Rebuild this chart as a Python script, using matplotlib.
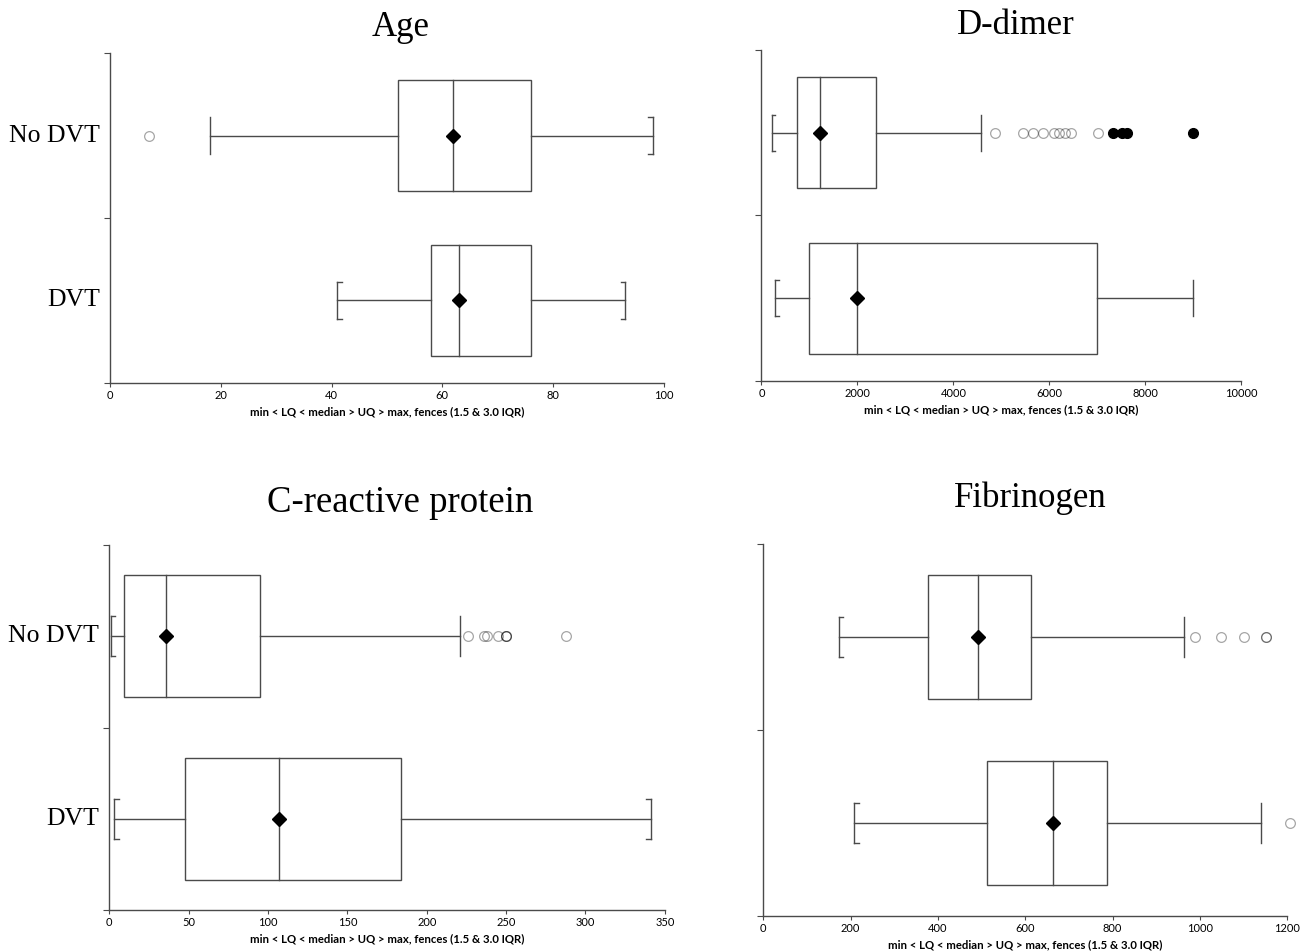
#!/usr/bin/env python3
"""Box plots of age, D-dimer, CRP and fibrinogen for DVT vs no DVT."""

import matplotlib
matplotlib.use("Agg")
import matplotlib.pyplot as plt

GROUPS = ["No DVT", "DVT"]
XLABEL = "min < LQ < median > UQ > max, fences (1.5 & 3.0 IQR)"

# order in every list: [No DVT, DVT]
age_lq = [52, 58]
age_median = [62, 63]
age_uq = [76, 76]
age_mean = [62, 63]
age_low = [18, 41]
age_high = [98, 93]
age_low_is_min = [False, True]
age_high_is_max = [True, True]
age_outliers = [[7], []]
age_far = [[], []]

ddimer_lq = [750, 1000]
ddimer_median = [1230, 2000]
ddimer_uq = [2380, 7000]
ddimer_mean = [1230, 2000]
ddimer_low = [210, 290]
ddimer_high = [4570, 9000]
ddimer_low_is_min = [True, True]
ddimer_high_is_max = [False, False]
ddimer_outliers = [[4870, 5450, 5660, 5860, 6100, 6200, 6330, 6450, 7020], []]
ddimer_far = [[7330, 7520, 7610, 9000], []]

crp_lq = [9, 48]
crp_median = [36, 107]
crp_uq = [95, 184]
crp_mean = [36, 107]
crp_low = [1, 3]
crp_high = [221, 341]
crp_low_is_min = [True, True]
crp_high_is_max = [False, True]
crp_outliers = [[226, 236, 238, 245, 250, 250, 250, 288], []]
crp_far = [[], []]

fib_lq = [377, 513]
fib_median = [491, 663]
fib_uq = [614, 786]
fib_mean = [491, 663]
fib_low = [174, 209]
fib_high = [964, 1139]
fib_low_is_min = [True, True]
fib_high_is_max = [False, False]
fib_outliers = [[988, 1049, 1100, 1150, 1150], [1206]]
fib_far = [[], []]

LINE = "#4a4a4a"
SERIF = "Liberation Serif"
SANS = "Lato"


def draw_panel(ax, lq, med, uq, mean, low, high, low_min, high_max,
               outliers, far, xmax, xstep, show_groups):
    ycenter = [1.5, 0.5]  # No DVT on top
    half_box = 0.335
    half_cap = 0.11
    serif = 0.008 * xmax

    for i in range(2):
        y = ycenter[i]
        ax.add_patch(plt.Rectangle((lq[i], y - half_box), uq[i] - lq[i], 2 * half_box,
                                   fill=False, edgecolor=LINE, linewidth=1.0))
        ax.plot([med[i], med[i]], [y - half_box, y + half_box], color=LINE, lw=1.0)
        ax.plot([low[i], lq[i]], [y, y], color=LINE, lw=1.0)
        ax.plot([uq[i], high[i]], [y, y], color=LINE, lw=1.0)
        # caps: plain line for fences, bracket for min / max
        for xv, bracket, sign in ((low[i], low_min[i], 1), (high[i], high_max[i], -1)):
            ax.plot([xv, xv], [y - half_cap, y + half_cap], color=LINE, lw=1.0)
            if bracket:
                for yy in (y - half_cap, y + half_cap):
                    ax.plot([xv, xv + sign * serif], [yy, yy], color=LINE, lw=1.0)
        for xo in outliers[i]:
            ax.plot(xo, y, "o", ms=7, mfc="none", mec="black", mew=0.9,
                    alpha=0.35, clip_on=False)
        for xo in far[i]:
            ax.plot(xo, y, "o", ms=7, mfc="black", mec="black", clip_on=False)
        ax.plot(mean[i], y, "D", ms=7.5, color="black", zorder=5)
        if show_groups:
            ax.text(-0.018, y / 2, GROUPS[i], transform=ax.transAxes, ha="right",
                    va="center", family=SERIF, fontsize=18.5)

    ax.set_xlim(0, xmax)
    ax.set_ylim(0, 2)
    ax.set_xticks(range(0, xmax + 1, xstep))
    ax.set_yticks([0, 1, 2])
    ax.set_yticklabels([])
    for s in ("top", "right"):
        ax.spines[s].set_visible(False)
    for s in ("left", "bottom"):
        ax.spines[s].set_color(LINE)
        ax.spines[s].set_linewidth(1.0)
    ax.tick_params(axis="x", length=3, color=LINE, labelsize=8, pad=2)
    ax.tick_params(axis="y", length=4, color=LINE)
    for lab in ax.get_xticklabels():
        lab.set_family(SANS)
    ax.set_xlabel(XLABEL, family=SANS, fontweight="bold", fontsize=8.2, labelpad=4)


def main():
    fig = plt.figure(figsize=(13.09, 9.52), dpi=100)

    ax_age = fig.add_axes([0.0840, 0.5977, 0.4232, 0.3466])
    ax_dd = fig.add_axes([0.5817, 0.5998, 0.3666, 0.3477])
    ax_crp = fig.add_axes([0.0835, 0.0441, 0.4244, 0.3834])
    ax_fib = fig.add_axes([0.5830, 0.0378, 0.4005, 0.3908])

    draw_panel(ax_age, age_lq, age_median, age_uq, age_mean, age_low, age_high,
               age_low_is_min, age_high_is_max, age_outliers, age_far, 100, 20, True)
    draw_panel(ax_dd, ddimer_lq, ddimer_median, ddimer_uq, ddimer_mean, ddimer_low,
               ddimer_high, ddimer_low_is_min, ddimer_high_is_max, ddimer_outliers,
               ddimer_far, 10000, 2000, False)
    draw_panel(ax_crp, crp_lq, crp_median, crp_uq, crp_mean, crp_low, crp_high,
               crp_low_is_min, crp_high_is_max, crp_outliers, crp_far, 350, 50, True)
    draw_panel(ax_fib, fib_lq, fib_median, fib_uq, fib_mean, fib_low, fib_high,
               fib_low_is_min, fib_high_is_max, fib_outliers, fib_far, 1200, 200, False)

    fig.text(0.3063, 0.9716, "Age", ha="center", va="center", family=SERIF, fontsize=25)
    fig.text(0.776, 0.9737, "D-dimer", ha="center", va="center", family=SERIF, fontsize=25)
    fig.text(0.3056, 0.4716, "C-reactive protein", ha="center", va="center",
             family=SERIF, fontsize=26.5)
    fig.text(0.7869, 0.4769, "Fibrinogen", ha="center", va="center", family=SERIF,
             fontsize=25)

    fig.savefig("out.png", dpi=100, facecolor="white")


if __name__ == "__main__":
    main()
